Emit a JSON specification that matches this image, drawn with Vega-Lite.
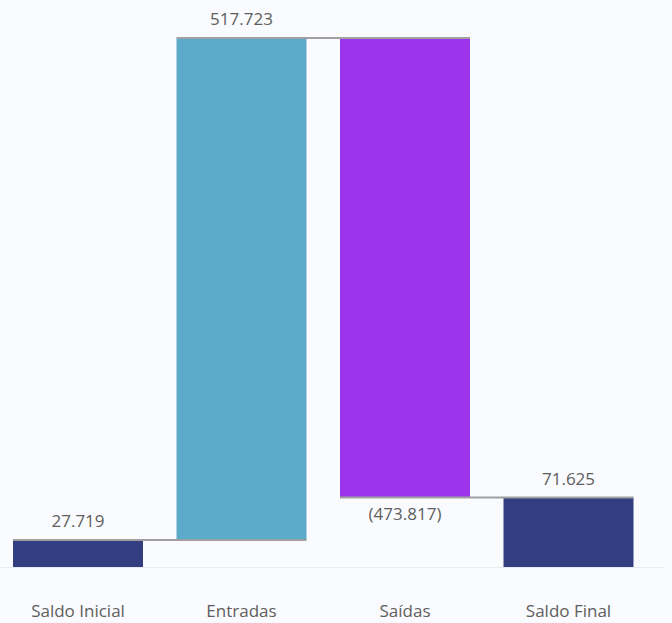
{
  "$schema": "https://vega.github.io/schema/vega-lite/v6.json",
  "width": 663,
  "height": 567,
  "padding": {"left": 0, "top": 0, "right": 9, "bottom": 56},
  "autosize": {"type": "none"},
  "background": "#f9fbfe",
  "config": {"view": {"stroke": null}, "font": "Open Sans"},
  "data": {
    "values": [
      {"cat": "Saldo Inicial", "start": 0, "end": 27719, "label": "27.719", "kind": "total", "next": "Entradas"},
      {"cat": "Entradas", "start": 27719, "end": 545442, "label": "517.723", "kind": "increase", "next": "Saídas"},
      {"cat": "Saídas", "start": 545442, "end": 71625, "label": "(473.817)", "kind": "decrease", "next": "Saldo Final"},
      {"cat": "Saldo Final", "start": 0, "end": 71625, "label": "71.625", "kind": "total", "next": null}
    ]
  },
  "encoding": {
    "x": {
      "field": "cat", "type": "nominal", "sort": null, "title": null,
      "scale": {"paddingInner": 0.205, "paddingOuter": 0.13, "align": 0.306},
      "axis": {"labelAngle": 0, "ticks": false, "domain": true, "domainColor": "#e8ebf0", "domainWidth": 1,
               "labelFontSize": 17, "labelColor": "#605e5c", "labelPadding": 36, "labelFont": "Open Sans"}
    }
  },
  "layer": [
    {
      "mark": {"type": "bar"},
      "encoding": {
        "y": {"field": "start", "type": "quantitative", "scale": {"domain": [0, 584600], "nice": false, "zero": true}, "axis": null},
        "y2": {"field": "end"},
        "color": {"field": "kind", "type": "nominal", "legend": null,
                  "scale": {"domain": ["total", "increase", "decrease"], "range": ["#333e80", "#5caacc", "#9b34eb"]}}
      }
    },
    {
      "transform": [{"filter": "datum.next != null"}],
      "mark": {"type": "rule", "color": "#a0a0a0", "strokeWidth": 2},
      "encoding": {
        "x": {"field": "cat", "type": "nominal", "sort": null, "bandPosition": 0},
        "x2": {"field": "next", "bandPosition": 1},
        "y": {"field": "end", "type": "quantitative"}
      }
    },
    {
      "transform": [{"filter": "datum.kind != 'decrease'"}],
      "mark": {"type": "text", "baseline": "bottom", "dy": -9, "fontSize": 17, "color": "#605e5c", "font": "Open Sans"},
      "encoding": {
        "y": {"field": "end", "type": "quantitative"},
        "text": {"field": "label"}
      }
    },
    {
      "transform": [{"filter": "datum.kind == 'decrease'"}],
      "mark": {"type": "text", "baseline": "top", "dy": 9, "fontSize": 17, "color": "#605e5c", "font": "Open Sans"},
      "encoding": {
        "y": {"field": "end", "type": "quantitative"},
        "text": {"field": "label"}
      }
    }
  ]
}
